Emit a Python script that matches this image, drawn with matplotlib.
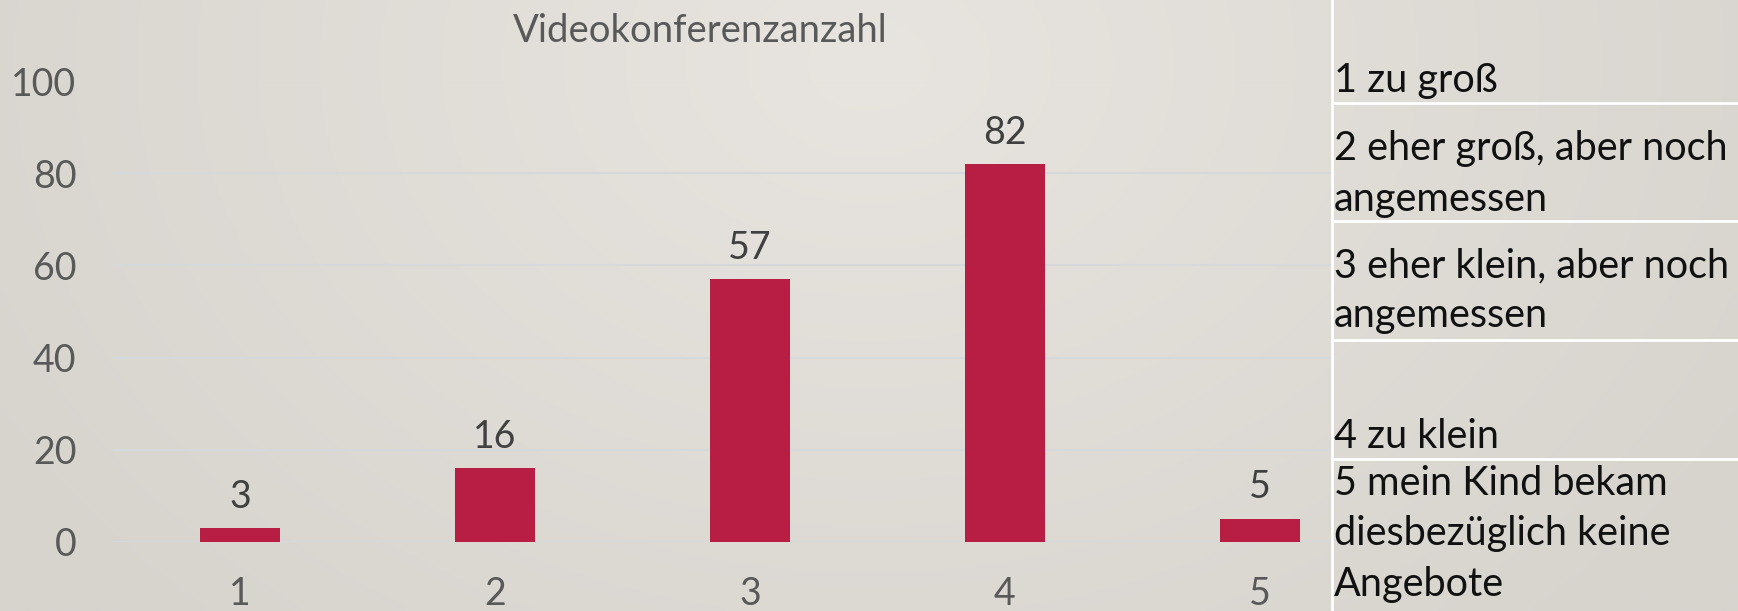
"""Videokonferenzanzahl - bar chart with answer key table on the right."""

import matplotlib

matplotlib.use("Agg")
import matplotlib.pyplot as plt
import numpy as np
from matplotlib.lines import Line2D

# --- data -----------------------------------------------------------------
categories = ["1", "2", "3", "4", "5"]
counts = [3, 16, 57, 82, 5]
y_ticks = [0, 20, 40, 60, 80, 100]
title = "Videokonferenzanzahl"

# answer key shown as a table to the right of the chart
key_rows = [
    ["1 zu groß"],
    ["2 eher groß, aber noch", "angemessen"],
    ["3 eher klein, aber noch", "angemessen"],
    ["4 zu klein"],
    ["5 mein Kind bekam", "diesbezüglich keine", "Angebote"],
]

# --- style ----------------------------------------------------------------
BG_LIGHT = np.array([0xE8, 0xE5, 0xE0]) / 255
BG_DARK = np.array([0xD7, 0xD4, 0xCE]) / 255
BAR = "#B81E43"
GRID = "#D6D9DC"
TICK_COLOR = "#595959"
LABEL_COLOR = "#404040"
FONT = ["Lato", "DejaVu Sans"]

W, H = 1738, 611
plt.rcParams["font.family"] = FONT

fig = plt.figure(figsize=(W / 100, H / 100), dpi=100,
                 facecolor=(BG_LIGHT + BG_DARK) / 2)


def fx(px):
    return px / W


def fy(py):
    # py measured from the top of the picture
    return 1 - py / H


# soft slide-style background, lighter towards the upper middle
bg_ax = fig.add_axes([0, 0, 1, 1], zorder=-10)
gx, gy = np.meshgrid(np.linspace(0, 1, 200), np.linspace(0, 1, 80))
dist = np.clip(np.hypot((gx - 0.5) / 0.6, (gy - 0.1) / 1.3), 0, 1)
shade = BG_LIGHT[None, None, :] * (1 - dist[..., None]) + BG_DARK[None, None, :] * dist[..., None]
bg_ax.imshow(shade, extent=[0, 1, 0, 1], aspect="auto", interpolation="bilinear")
bg_ax.set_axis_off()

# plot area: 255 px per category, value axis 0..100
table_left = 1332
plot_left = 112.5
cat_px = 255
ax = fig.add_axes([fx(plot_left), fy(541.5), fx(table_left - plot_left), 460 / H])
ax.patch.set_visible(False)
x = list(range(1, len(categories) + 1))
bars = ax.bar(x, counts, width=0.314, color=BAR, zorder=3)
ax.set_xlim(0.5, 0.5 + (table_left - plot_left) / cat_px)
ax.set_ylim(0, 100)
ax.set_yticks(y_ticks)
ax.set_xticks(x)
ax.set_xticklabels(categories)
ax.yaxis.grid(True, color=GRID, linewidth=1.5, zorder=0)
ax.set_axisbelow(True)
for side in ax.spines.values():
    side.set_visible(False)
ax.tick_params(axis="both", length=0, labelsize=27, colors=TICK_COLOR)
ax.tick_params(axis="y", pad=26)
ax.tick_params(axis="x", pad=25)

for rect, value in zip(bars, counts):
    ax.annotate(
        str(value),
        (rect.get_x() + rect.get_width() / 2, value),
        xytext=(0, 14.5),
        textcoords="offset points",
        ha="center",
        va="baseline",
        fontsize=27,
        color=LABEL_COLOR,
    )

fig.text(fx(700), fy(42), title, ha="center", va="baseline",
         fontsize=27.5, color=TICK_COLOR)

# --- answer key table -----------------------------------------------------
fig.lines.append(
    Line2D([fx(table_left), fx(table_left)], [0, 1], transform=fig.transFigure,
           color="white", linewidth=2, zorder=6)
)
for sep in [103, 221, 340, 459]:
    fig.lines.append(
        Line2D([fx(table_left), 1], [fy(sep), fy(sep)],
               transform=fig.transFigure, color="white", linewidth=2, zorder=6)
    )

row_baselines = [92, 160, 277, 448, 495]
line_step = 50.5
for lines, base in zip(key_rows, row_baselines):
    for i, line in enumerate(lines):
        fig.text(fx(table_left + 2), fy(base + i * line_step), line,
                 ha="left", va="baseline", fontsize=28.5, color="#111111",
                 zorder=7)

fig.savefig("out.png", dpi=100)
